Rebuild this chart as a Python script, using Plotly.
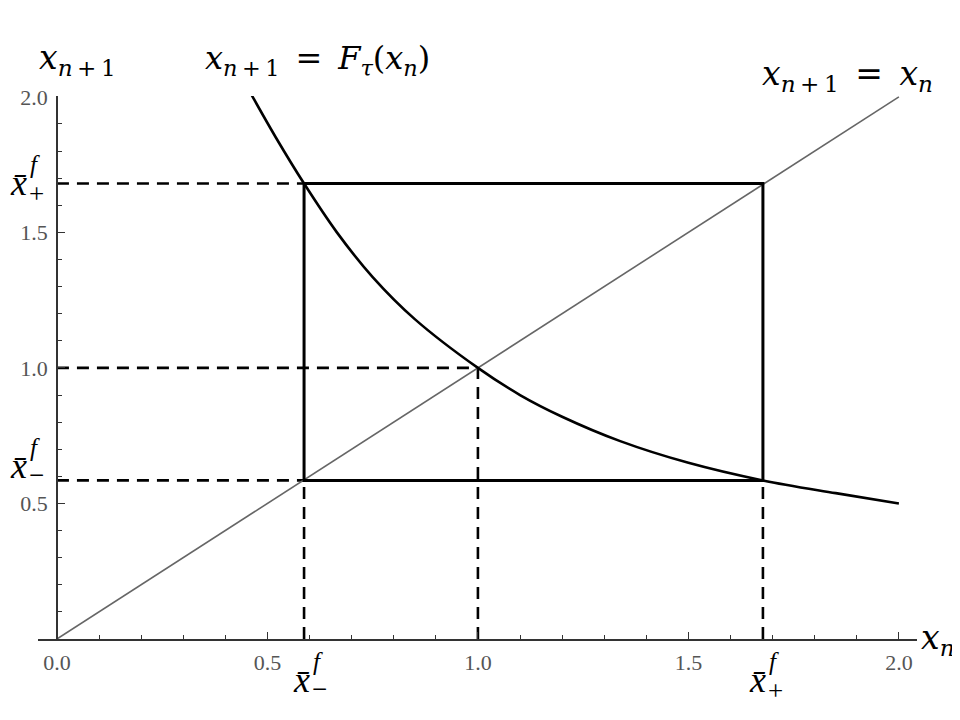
import plotly.graph_objects as go

# ---- data ----
curve_x = [0.463, 0.52, 0.587, 0.665, 0.75, 0.85, 1.0, 1.1, 1.2, 1.338, 1.5, 1.677, 1.85, 2.0]
curve_y = [2.005, 1.85, 1.68, 1.50, 1.335, 1.18, 1.0, 0.90, 0.82, 0.73, 0.65, 0.585, 0.538, 0.5]
diag_x = [0.0, 2.0]
diag_y = [0.0, 2.0]
x_minus = 0.587   # lower point of the 2-cycle
x_plus = 1.677    # upper point of the 2-cycle
y_minus = 0.585
y_plus = 1.68
x_star = 1.0      # fixed point
major_ticks = [0.0, 0.5, 1.0, 1.5, 2.0]
major_labels = ["0.0", "0.5", "1.0", "1.5", "2.0"]
y_major_ticks = [0.5, 1.0, 1.5, 2.0]
y_major_labels = ["0.5", "1.0", "1.5", "2.0"]
minor_ticks = [0.1, 0.2, 0.3, 0.4, 0.6, 0.7, 0.8, 0.9, 1.1, 1.2, 1.3, 1.4, 1.6, 1.7, 1.8, 1.9]

# page body has an 8px margin in the browser; size the figure to fit
W, H = 952, 712
ML, MR, MT, MB = 30, 43, 88, 81
XR = [-0.045, 2.043]
YR = [0.0, 2.003]

fig = go.Figure()

DASH = "12px,8px"
dashed = [
    ([0, x_minus], [y_plus, y_plus]),
    ([0, x_star], [x_star, x_star]),
    ([0, x_minus], [y_minus, y_minus]),
    ([x_minus, x_minus], [0, y_minus]),
    ([x_star, x_star], [0, x_star]),
    ([x_plus, x_plus], [0, y_minus]),
]
for xs, ys in dashed:
    fig.add_trace(go.Scatter(x=xs, y=ys, mode="lines",
                             line=dict(color="black", width=2.6, dash=DASH),
                             showlegend=False, hoverinfo="skip"))

fig.add_trace(go.Scatter(x=diag_x, y=diag_y, mode="lines",
                         line=dict(color="#666666", width=1.6),
                         showlegend=False, hoverinfo="skip"))

fig.add_trace(go.Scatter(x=[x_minus, x_plus, x_plus, x_minus, x_minus],
                         y=[y_plus, y_plus, y_minus, y_minus, y_plus], mode="lines",
                         line=dict(color="black", width=3),
                         showlegend=False, hoverinfo="skip"))

fig.add_trace(go.Scatter(x=curve_x, y=curve_y, mode="lines",
                         line=dict(color="black", width=2.6, shape="spline", smoothing=1.0),
                         showlegend=False, hoverinfo="skip"))

PW = W - ML - MR
PH = H - MT - MB
OFF = 8
def fx(p):   # page pixel -> paper fraction
    return (p - OFF - ML) / PW
def fy(p):
    return (H - MB - (p - OFF)) / PH

SERIF = "Liberation Serif"
MATH = "DejaVu Serif"
ann = []
def add(text, x, y, size, family=MATH, xanchor="left", yanchor="middle"):
    ann.append(dict(text=text, x=fx(x), y=fy(y), xref="paper", yref="paper",
                    showarrow=False, xanchor=xanchor, yanchor=yanchor,
                    font=dict(family=family, size=size, color="black")))

TS = "\u2009"
SP = "\u2002"
xn1 = "<i>x</i><sub><i>n</i>" + TS + "+" + TS + "1</sub>"
add(xn1, 37, 60, 33)
add(xn1 + SP + "=" + SP + "<i>F</i><sub><i>τ</i></sub>(<i>x</i><sub><i>n</i></sub>)", 203, 60, 32)
add(xn1 + SP + "=" + SP + "<i>x</i><sub><i>n</i></sub>", 760, 75, 33)
add("<i>x</i><sub><i>n</i></sub>", 919, 639, 33)

def xbar(x0, ybase, sub):
    add("<i>x\u0304</i>", x0, ybase, 36, family=SERIF)
    add("<i>f</i>", x0 + 20, ybase - 19, 25, family=SERIF)
    add(sub, x0 + 19, ybase + 11 if sub == "+" else ybase + 9, 27, family=SERIF)

xbar(8, 183, "+")
xbar(8, 466, "\u2212")
xbar(291, 680, "\u2212")
xbar(747, 680, "+")

axis_common = dict(showgrid=False, zeroline=False, automargin=False,
                   showline=True, linecolor="#333333", linewidth=1.5,
                   ticks="inside", ticklen=7, tickwidth=1.2, tickcolor="#333333",
                   tickfont=dict(family=SERIF, size=22, color="#555555"),
                   minor=dict(tickmode="array", tickvals=minor_ticks, ticks="inside",
                              ticklen=4, tickwidth=1, tickcolor="#333333"),
                   fixedrange=True)

fig.update_layout(
    width=W, height=H,
    margin=dict(l=ML, r=MR, t=MT, b=MB),
    paper_bgcolor="white", plot_bgcolor="white",
    showlegend=False,
    annotations=ann,
    xaxis=dict(range=XR, tickmode="array", tickvals=major_ticks, ticktext=major_labels,
               ticklabelstandoff=3, **axis_common),
    yaxis=dict(range=YR, anchor="free", position=(0 - XR[0]) / (XR[1] - XR[0]),
               tickmode="array", tickvals=y_major_ticks, ticktext=y_major_labels,
               ticklabelstandoff=4, **axis_common),
)

fig.write_html("out.html")
